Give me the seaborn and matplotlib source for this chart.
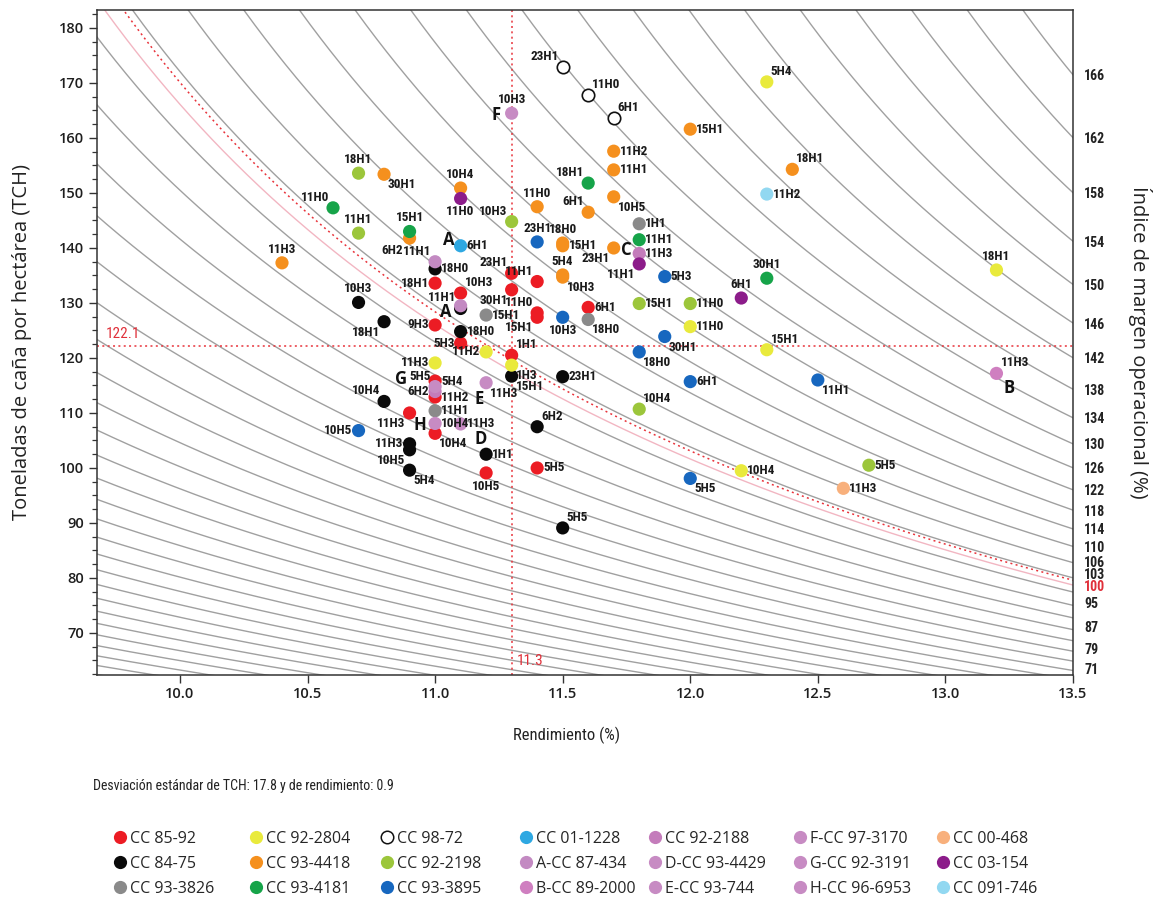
import numpy as np
import pandas as pd
import matplotlib
matplotlib.use("Agg")
import matplotlib.pyplot as plt
from matplotlib.lines import Line2D
from matplotlib import font_manager
import seaborn as sns

sns.set_theme(style="white")
installed = {f.name for f in font_manager.fontManager.ttflist}
NARROW = next((f for f in ["Liberation Sans Narrow", "Roboto Condensed", "DejaVu Sans"] if f in installed), "DejaVu Sans")
BODY = "Open Sans" if "Open Sans" in installed else "DejaVu Sans"
plt.rcParams['font.family'] = [BODY, 'DejaVu Sans']

# ---------------------------------------------------------------- data
# rendimiento (%), TCH and harvest code for every variety
r_cc8592 = [11.0, 11.1, 11.3, 11.3, 11.4, 11.4, 11.4, 11.6, 11.0, 11.1, 11.3, 11.0, 11.0, 10.9, 11.0, 11.2, 11.4]
t_cc8592 = [133.6, 131.8, 135.4, 132.4, 133.9, 128.2, 127.4, 129.2, 126.0, 122.7, 120.5, 115.8, 112.9, 110.0, 106.3, 99.1, 100.0]
h_cc8592 = ['18H1', '10H3', '23H1', '30H1', '11H1', '11H0', '15H1', '6H1', '9H3', '5H3', '1H1', '5H4', '11H2', '11H3', '10H4', '10H5', '5H5']

r_cc8475 = [10.7, 10.8, 11.0, 11.1, 11.1, 11.3, 11.5, 10.8, 10.9, 10.9, 10.9, 11.2, 11.4, 11.5]
t_cc8475 = [130.1, 126.6, 136.2, 129.0, 124.8, 116.7, 116.6, 112.1, 104.4, 103.3, 99.6, 102.5, 107.5, 89.1]
h_cc8475 = ['10H3', '18H1', '18H0', '11H1', '18H0', '15H1', '23H1', '10H4', '11H3', '10H5', '5H4', '1H1', '6H2', '5H5']

r_cc933826 = [11.8, 11.2, 11.6, 11.0]
t_cc933826 = [144.4, 127.8, 127.0, 110.4]
h_cc933826 = ['1H1', '15H1', '18H0', '11H1']

r_cc922804 = [12.3, 13.2, 12.0, 12.3, 12.2, 11.2, 11.3, 11.0]
t_cc922804 = [170.2, 136.0, 125.7, 121.5, 99.5, 121.1, 118.7, 119.1]
h_cc922804 = ['5H4', '18H1', '11H0', '15H1', '10H4', '11H2', '1H3', '11H3']

r_cc934418 = [12.0, 12.4, 11.7, 11.7, 11.7, 11.6, 11.4, 11.7, 11.5, 11.5, 11.5, 11.5, 10.8, 11.1, 10.9, 10.4]
t_cc934418 = [161.6, 154.3, 157.6, 154.2, 149.3, 146.5, 147.5, 140.0, 140.9, 140.4, 135.1, 134.7, 153.4, 150.9, 141.8, 137.3]
h_cc934418 = ['15H1', '18H1', '11H2', '11H1', '10H5', '6H1', '11H0', '23H1', '18H0', '15H1', '5H4', '10H3', '30H1', '10H4', '6H2', '11H3']

r_cc934181 = [11.6, 11.8, 12.3, 10.6, 10.9]
t_cc934181 = [151.8, 141.5, 134.5, 147.3, 143.0]
h_cc934181 = ['18H1', '11H1', '30H1', '11H0', '15H1']

r_cc9872 = [11.5, 11.6, 11.7]
t_cc9872 = [172.9, 167.8, 163.6]
h_cc9872 = ['23H1', '11H0', '6H1']

r_cc922198 = [10.7, 10.7, 11.3, 11.8, 12.0, 11.8, 12.7]
t_cc922198 = [153.6, 142.7, 144.8, 129.9, 129.9, 110.7, 100.5]
h_cc922198 = ['18H1', '11H1', '10H3', '15H1', '11H0', '10H4', '5H5']

r_cc933895 = [11.4, 11.9, 11.5, 11.9, 11.8, 12.0, 12.5, 12.0, 10.7]
t_cc933895 = [141.1, 134.8, 127.4, 123.9, 121.1, 115.7, 116.0, 98.1, 106.8]
h_cc933895 = ['23H1', '5H3', '10H3', '30H1', '18H0', '6H1', '11H1', '5H5', '10H5']

r_cc011228 = [11.1]
t_cc011228 = [140.4]
h_cc011228 = ['6H1']

r_cc87434 = [11.0, 11.1]
t_cc87434 = [137.5, 129.5]
h_cc87434 = ['11H1', '']

r_cc892000 = [13.2]
t_cc892000 = [117.2]
h_cc892000 = ['11H3']

r_cc922188 = [11.8, 11.0]
t_cc922188 = [139.0, 113.9]
h_cc922188 = ['11H3', '6H2']

r_cc934429 = [11.1]
t_cc934429 = [108.0]
h_cc934429 = ['11H3']

r_cc93744 = [11.2]
t_cc93744 = [115.5]
h_cc93744 = ['11H3']

r_cc973170 = [11.3]
t_cc973170 = [164.5]
h_cc973170 = ['10H3']

r_cc923191 = [11.0]
t_cc923191 = [114.8]
h_cc923191 = ['5H5']

r_cc966953 = [11.0]
t_cc966953 = [108.1]
h_cc966953 = ['10H4']

r_cc00468 = [12.6]
t_cc00468 = [96.3]
h_cc00468 = ['11H3']

r_cc03154 = [11.1, 11.8, 12.2]
t_cc03154 = [149.0, 137.1, 130.9]
h_cc03154 = ['11H0', '11H1', '6H1']

r_cc091746 = [12.3]
t_cc091746 = [149.8]
h_cc091746 = ['11H2']

# reference values
mean_rend = 11.3
mean_tch = 122.1
sd_text = "Desviación estándar de TCH: 17.8 y de rendimiento: 0.9"
margin_labels = [166, 162, 158, 154, 150, 146, 142, 138, 134, 130, 126, 122, 118,
                 114, 110, 106, 103, 100, 95, 87, 79, 71]

# margin index: T = K / (R - c - u*M)   (K: fixed cost term, c: variable cost, u: index step)
margin_k = 523.6
margin_c = 1.396
margin_u = 0.054522
curve_levels = np.arange(-62, 191, 4)          # iso-margin curves every 4 points
ref_curve_k, ref_curve_r0 = 523.6, 6.922       # 100 % curve through the mean

# ---------------------------------------------------------------- styling
varieties = [
    # name, rend, tch, harvest, colour, label placement
    ("CC 85-92", r_cc8592, t_cc8592, h_cc8592, "#ec1c24",
     ['l', 'ur', 'ul', 'll', 'ul', 'ul', 'll', 'r', 'l', 'l', 'ur', 'r', 'r', 'll', 'lr', 'd', 'r']),
    ("CC 84-75", r_cc8475, t_cc8475, h_cc8475, "#0a0a0a",
     ['u', 'll', 'r', 'ul', 'r', 'lr', 'r', 'ul', 'l', 'll', 'lr', 'r', 'ur', 'ur']),
    ("CC 93-3826", r_cc933826, t_cc933826, h_cc933826, "#8a8a8a", ['r', 'r', 'lr', 'r']),
    ("CC 92-2804", r_cc922804, t_cc922804, h_cc922804, "#e9ea3c", ['ur', 'u', 'r', 'ur', 'r', 'l', 'lr', 'l']),
    ("CC 93-4418", r_cc934418, t_cc934418, h_cc934418, "#f5901e",
     ['r', 'ur', 'r', 'r', 'lr', 'ul', 'u', 'll', 'u', 'r', 'u', 'lr', 'lr', 'u', 'll2', 'u']),
    ("CC 93-4181", r_cc934181, t_cc934181, h_cc934181, "#16a449", ['ul', 'r', 'u', 'ul', 'u']),
    ("CC 98-72", r_cc9872, t_cc9872, h_cc9872, "white", ['ul', 'ur', 'ur']),
    ("CC 92-2198", r_cc922198, t_cc922198, h_cc922198, "#9cc63b", ['u', 'u', 'ul', 'r', 'r', 'ur', 'r']),
    ("CC 93-3895", r_cc933895, t_cc933895, h_cc933895, "#1767bf", ['u', 'r', 'd', 'lr', 'lr', 'r', 'lr', 'lr', 'l']),
    ("CC 01-1228", r_cc011228, t_cc011228, h_cc011228, "#2ea8e2", ['r']),
    ("A-CC 87-434", r_cc87434, t_cc87434, h_cc87434, "#c38ac2", ['ul', 'r']),
    ("B-CC 89-2000", r_cc892000, t_cc892000, h_cc892000, "#cf7fc0", ['ur']),
    ("CC 92-2188", r_cc922188, t_cc922188, h_cc922188, "#c47cbb", ['r', 'l']),
    ("D-CC 93-4429", r_cc934429, t_cc934429, h_cc934429, "#c78bc3", ['r']),
    ("E-CC 93-744", r_cc93744, t_cc93744, h_cc93744, "#c78bc3", ['lr']),
    ("F-CC 97-3170", r_cc973170, t_cc973170, h_cc973170, "#c78bc3", ['u']),
    ("G-CC 92-3191", r_cc923191, t_cc923191, h_cc923191, "#c78bc3", ['ul']),
    ("H-CC 96-6953", r_cc966953, t_cc966953, h_cc966953, "#c78bc3", ['r']),
    ("CC 00-468", r_cc00468, t_cc00468, h_cc00468, "#f8b07c", ['r']),
    ("CC 03-154", r_cc03154, t_cc03154, h_cc03154, "#8c1c8a", ['d', 'll', 'u']),
    ("CC 091-746", r_cc091746, t_cc091746, h_cc091746, "#92d8f1", ['r']),
]

# letter tags: (variety, point index, letter, pixel offset)
letters = [
    ("A-CC 87-434", 0, "A", (14, 22)),
    ("A-CC 87-434", 1, "A", (-15, -6)),
    ("B-CC 89-2000", 0, "B", (13, -15)),
    ("CC 92-2188", 0, "C", (-13, 3)),
    ("D-CC 93-4429", 0, "D", (20, -15)),
    ("E-CC 93-744", 0, "E", (-7, -16)),
    ("F-CC 97-3170", 0, "F", (-16, -2)),
    ("G-CC 92-3191", 0, "G", (-34, 8)),
    ("H-CC 96-6953", 0, "H", (-15, -2)),
]

OFFSETS = {
    'r': (6, 0, 'left', 'center'),
    'l': (-6, 0, 'right', 'center'),
    'ur': (4, 4, 'left', 'bottom'),
    'ul': (-4, 4, 'right', 'bottom'),
    'lr': (4, -4, 'left', 'top'),
    'll': (-4, -4, 'right', 'top'),
    'll2': (-7, -6, 'right', 'top'),
    'u': (0, 7, 'center', 'bottom'),
    'd': (0, -7, 'center', 'top'),
}

XMIN, XMAX = 9.675, 13.5
YMIN, YMAX = 62.36, 183.27
RED = "#e8333b"

# ---------------------------------------------------------------- figure
W, H = 1161, 901
fig = plt.figure(figsize=(W / 100, H / 100), dpi=100)
ax = fig.add_axes([97 / W, 1 - 675 / H, (1073 - 97) / W, (675 - 10) / H])
ax.set_xlim(XMIN, XMAX)
ax.set_ylim(YMIN, YMAX)

rgrid = np.linspace(XMIN - 0.01, XMAX + 0.01, 900)
for m in curve_levels:
    a = margin_c + margin_u * m
    rr = rgrid[rgrid > a + 0.02]
    if len(rr) == 0:
        continue
    ax.plot(rr, margin_k / (rr - a), color="#a0a0a0", lw=1.0, zorder=1)

# 100 % margin curves
a100 = margin_c + margin_u * 100
rr = rgrid[rgrid > a100 + 0.02]
ax.plot(rr, margin_k / (rr - a100), color="#f2b6c2", lw=1.0, zorder=2)
rr = rgrid[rgrid > ref_curve_r0 + 0.02]
ax.plot(rr, ref_curve_k / (rr - ref_curve_r0), color=RED, lw=1.1, ls=(0, (1.3, 2.2)), zorder=2)

ax.axhline(mean_tch, color=RED, lw=1.1, ls=(0, (1.3, 2.2)), zorder=2)
ax.axvline(mean_rend, color=RED, lw=1.1, ls=(0, (1.3, 2.2)), zorder=2)
ax.text(XMIN + 0.035, mean_tch + 0.9, f"{mean_tch}", color="#e0303a", fontsize=11,
        ha="left", va="bottom", family=[NARROW, 'DejaVu Sans'])
ax.text(mean_rend + 0.02, YMIN + 1.2, f"{mean_rend}", color="#e0303a", fontsize=11,
        ha="left", va="bottom", family=[NARROW, 'DejaVu Sans'])

# points
rows = []
for name, r, t, h, col, pos in varieties:
    for i in range(len(r)):
        rows.append(dict(variedad=name, rend=r[i], tch=t[i]))
df = pd.DataFrame(rows)
palette = {v[0]: v[4] for v in varieties}
filled = df[df.variedad != "CC 98-72"]
sns.scatterplot(data=filled, x="rend", y="tch", hue="variedad", palette=palette,
                s=90, linewidth=0, legend=False, ax=ax, zorder=4)
sns.scatterplot(data=df[df.variedad == "CC 98-72"], x="rend", y="tch", s=80,
                facecolor="white", edgecolor="#111111", linewidth=1.2,
                legend=False, ax=ax, zorder=4)

lab_font = [NARROW, 'DejaVu Sans']
for name, r, t, h, col, pos in varieties:
    for i in range(len(r)):
        if not h[i]:
            continue
        dx, dy, ha, va = OFFSETS[pos[i]]
        ax.annotate(h[i], (r[i], t[i]), xytext=(dx, dy), textcoords="offset pixels",
                    ha=ha, va=va, fontsize=9.5, fontweight="bold", color="#1a1a1a",
                    family=lab_font, zorder=5)

lookup = {v[0]: v for v in varieties}
for name, idx, letter, (dx, dy) in letters:
    v = lookup[name]
    ax.annotate(letter, (v[1][idx], v[2][idx]), xytext=(dx, dy), textcoords="offset pixels",
                ha="center", va="center", fontsize=12, fontweight="bold", color="#111111",
                family=[BODY, 'DejaVu Sans'], zorder=5)

# axes and ticks
xt = np.arange(10.0, 13.51, 0.5)
ax.set_xticks(xt)
ax.set_xticklabels([f"{v:.1f}" for v in xt])
ax.set_xticks(np.arange(9.75, 13.5, 0.25), minor=True)
ax.set_yticks(np.arange(70, 181, 10))
ax.set_yticks(np.arange(62.5, 183.0, 2.5), minor=True)
ax.tick_params(axis="both", which="major", direction="out", length=6, width=1,
               color="#333333", labelsize=10.5, labelcolor="#1e1e1e", pad=3)
ax.tick_params(axis="both", which="minor", direction="out", length=3.5, width=0.9, color="#333333")
ax.tick_params(left=True, bottom=True)
for tl in ax.get_xticklabels() + ax.get_yticklabels():
    tl.set_fontweight(600)
for s in ax.spines.values():
    s.set_color("#333333")
    s.set_linewidth(1.1)
ax.set_xlabel("")
ax.set_ylabel("")

# right axis: index value at the end of each curve, spread so labels do not collide
ax2 = ax.twinx()
ax2.set_ylim(YMIN, YMAX)
right_pos = [margin_k / (XMAX - margin_c - margin_u * m) for m in margin_labels]
min_gap = 12 / (665 / (YMAX - YMIN))
order = np.argsort(right_pos)
adj = list(right_pos)
for k in range(1, len(order)):
    i, j = order[k], order[k - 1]
    if adj[i] < adj[j] + min_gap:
        adj[i] = adj[j] + min_gap
ax2.set_yticks(adj)
ax2.set_yticklabels([str(m) for m in margin_labels])
ax2.tick_params(axis="y", length=0, pad=8, labelsize=10, labelcolor="#222222")
for tl, m in zip(ax2.get_yticklabels(), margin_labels):
    tl.set_family([NARROW, 'DejaVu Sans'])
    tl.set_fontweight('bold')
    if m == 100:
        tl.set_color("#e0303a")
for s in ax2.spines.values():
    s.set_visible(False)

fig.text(567 / W, 1 - 735 / H, "Rendimiento (%)", ha="center", va="center", fontsize=12,
         family=[NARROW, 'DejaVu Sans'], color="#222222")
fig.text(22 / W, 1 - 342 / H, "Toneladas de caña por hectárea (TCH)", ha="center", va="center",
         rotation=90, fontsize=14.5, color="#222222")
fig.text(1140 / W, 1 - 342 / H, "Índice de margen operacional (%)", ha="center", va="center",
         rotation=270, fontsize=14.5, color="#222222")
fig.text(93 / W, 1 - 786 / H, sd_text, ha="left", va="center", fontsize=10,
         family=[NARROW, 'DejaVu Sans'], color="#222222")

# legend, one block per column
col_x = [115, 251, 382, 521, 650, 795, 938]
names = [v[0] for v in varieties]
for c in range(7):
    handles = []
    for nm in names[c * 3:(c + 1) * 3]:
        col = palette[nm]
        if nm == "CC 98-72":
            h = Line2D([], [], marker="o", ls="", markersize=9, markerfacecolor="white",
                       markeredgecolor="#111111", markeredgewidth=1.1)
        else:
            h = Line2D([], [], marker="o", ls="", markersize=9.5, markerfacecolor=col,
                       markeredgewidth=0)
        handles.append(h)
    fig.legend(handles, names[c * 3:(c + 1) * 3], loc="upper left",
               bbox_to_anchor=(col_x[c] / W, 1 - 831 / H), frameon=False,
               handlelength=0.6, handletextpad=0.35, labelspacing=0.55,
               borderaxespad=0, borderpad=0, prop={"size": 11.5})

fig.savefig("out.png", dpi=100)
